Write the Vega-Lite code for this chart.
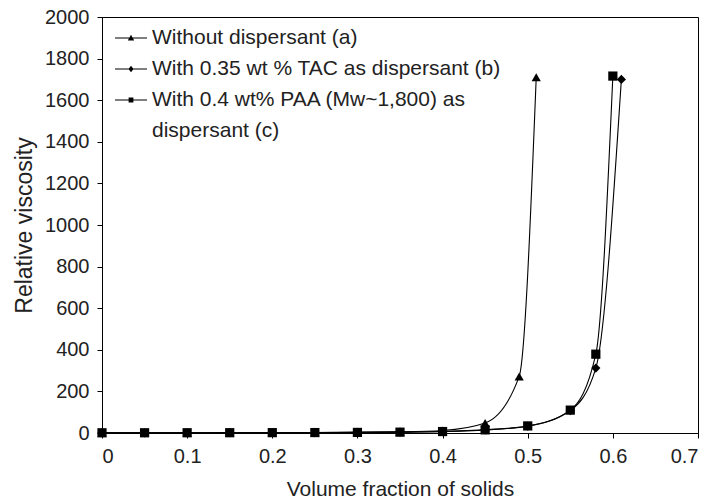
{
  "$schema": "https://vega.github.io/schema/vega-lite/v6.json",
  "width": 596,
  "height": 416,
  "autosize": "none",
  "padding": {"left": 102, "top": 17, "right": 9, "bottom": 70},
  "background": "white",
  "config": {
    "font": "Liberation Sans",
    "view": {"stroke": "black", "strokeWidth": 1},
    "style": {"guide-label": {"lineHeight": 31}},
    "axis": {"grid": false, "domainColor": "black", "tickColor": "black", "labelColor": "#222", "titleColor": "#222", "labelFontSize": 20, "titleFontSize": 21, "titleFontWeight": "normal", "tickSize": 5, "labelPadding": 8}
  },
  "data": {"values": [
    {"s": "a", "x": 0, "y": 1}, {"s": "a", "x": 0.05, "y": 1.1}, {"s": "a", "x": 0.1, "y": 1.3}, {"s": "a", "x": 0.15, "y": 1.6},
    {"s": "a", "x": 0.2, "y": 2}, {"s": "a", "x": 0.25, "y": 2.6}, {"s": "a", "x": 0.3, "y": 3.6}, {"s": "a", "x": 0.35, "y": 5.5},
    {"s": "a", "x": 0.4, "y": 12}, {"s": "a", "x": 0.45, "y": 48}, {"s": "a", "x": 0.49, "y": 272}, {"s": "a", "x": 0.51, "y": 1710},
    {"s": "b", "x": 0, "y": 1}, {"s": "b", "x": 0.05, "y": 1.1}, {"s": "b", "x": 0.1, "y": 1.2}, {"s": "b", "x": 0.15, "y": 1.4},
    {"s": "b", "x": 0.2, "y": 1.7}, {"s": "b", "x": 0.25, "y": 2.1}, {"s": "b", "x": 0.3, "y": 2.8}, {"s": "b", "x": 0.35, "y": 4},
    {"s": "b", "x": 0.4, "y": 7}, {"s": "b", "x": 0.45, "y": 15}, {"s": "b", "x": 0.5, "y": 33}, {"s": "b", "x": 0.55, "y": 108},
    {"s": "b", "x": 0.58, "y": 312}, {"s": "b", "x": 0.61, "y": 1700},
    {"s": "c", "x": 0, "y": 1}, {"s": "c", "x": 0.05, "y": 1.1}, {"s": "c", "x": 0.1, "y": 1.2}, {"s": "c", "x": 0.15, "y": 1.4},
    {"s": "c", "x": 0.2, "y": 1.7}, {"s": "c", "x": 0.25, "y": 2.1}, {"s": "c", "x": 0.3, "y": 2.8}, {"s": "c", "x": 0.35, "y": 4},
    {"s": "c", "x": 0.4, "y": 7}, {"s": "c", "x": 0.45, "y": 15}, {"s": "c", "x": 0.5, "y": 34}, {"s": "c", "x": 0.55, "y": 110},
    {"s": "c", "x": 0.58, "y": 379}, {"s": "c", "x": 0.6, "y": 1716}
  ]},
  "encoding": {
    "x": {"field": "x", "type": "quantitative", "scale": {"domain": [0, 0.7], "nice": false, "zero": true},
      "axis": {"values": [0, 0.1, 0.2, 0.3, 0.4, 0.5, 0.6, 0.7], "title": "Volume fraction of solids", "titlePadding": 12, "format": "~g"}},
    "y": {"field": "y", "type": "quantitative", "scale": {"domain": [0, 2000], "nice": false},
      "axis": {"values": [0, 200, 400, 600, 800, 1000, 1200, 1400, 1600, 1800, 2000], "title": "Relative viscosity", "titleFontSize": 23, "titlePadding": 8, "format": "d"}}
  },
  "layer": [
    {
      "mark": {"type": "line", "interpolate": "monotone", "color": "black", "strokeWidth": 1.1},
      "encoding": {"detail": {"field": "s"}}
    },
    {
      "mark": {"type": "point", "filled": true, "opacity": 1, "color": "black", "size": 85},
      "encoding": {
        "shape": {"field": "s", "type": "nominal",
          "scale": {"domain": ["a", "b", "c"], "range": ["triangle-up", "diamond", "square"]},
          "legend": null}
      }
    },
    {
      "mark": {"type": "point", "filled": true, "opacity": 0, "color": "black", "size": 85},
      "encoding": {
        "shape": {"field": "s", "type": "nominal",
          "scale": {"domain": ["a", "b", "c"], "range": [
            "M-1,-0.035H1V0.035H-1ZM0,-0.2L0.2,0.16L-0.2,0.16Z",
            "M-1,-0.035H1V0.035H-1ZM0,-0.2L0.16,0L0,0.2L-0.16,0Z",
            "M-1,-0.035H1V0.035H-1ZM-0.15,-0.15H0.15V0.15H-0.15Z"]},
          "legend": {
            "orient": "none", "legendX": 13, "legendY": 5,
            "title": null,
            "labelFontSize": 21, "labelColor": "#222", "labelLimit": 500,
            "symbolSize": 1024, "symbolFillColor": "black", "symbolStrokeColor": "black", "symbolStrokeWidth": 0, "symbolOpacity": 1,
            "rowPadding": 5, "labelOffset": 5,
            "labelExpr": "datum.value == 'a' ? 'Without dispersant (a)' : datum.value == 'b' ? 'With 0.35 wt % TAC as dispersant (b)' : ['With 0.4 wt% PAA (Mw~1,800) as', 'dispersant (c)']"
          }}
      }
    }
  ],
  "resolve": {"scale": {"shape": "independent"}, "legend": {"shape": "independent"}}
}
